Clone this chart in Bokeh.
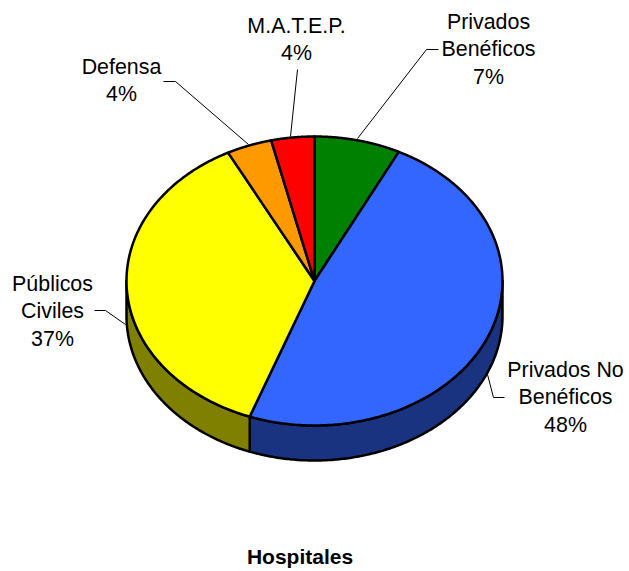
import numpy as np
from bokeh.plotting import figure
from bokeh.models import Range1d
from bokeh.core.properties import value
from bokeh.embed import file_html
from bokeh.resources import INLINE

categories = ["Privados Beneficos", "Privados No Beneficos", "Publicos Civiles", "Defensa", "M.A.T.E.P."]
shares = [7.4, 48.2, 36.8, 3.9, 3.7]
label_lines = [["Privados", "Benéficos", "7%"], ["Privados No", "Benéficos", "48%"],
               ["Públicos", "Civiles", "37%"], ["Defensa", "4%"], ["M.A.T.E.P.", "4%"]]
title_text = "Hospitales"

top_colors = ["#008000", "#3366FF", "#FFFF00", "#FF9900", "#FF0000"]
side_colors = ["#004000", "#1A3380", "#808000", "#804D00", "#800000"]

# layout, in page pixels
W, H = 629, 571
CX, CY, RX, RY, DEPTH = 315, 281.5, 188, 144.5, 35
label_xy = [(489, 22), (566, 370), (53, 284), (122, 67), (297, 26)]
LINE_H = 27.5
leaders = [[(358, 139), (427, 50), (439, 50)],
           [(488, 375), (494, 398), (505, 398)],
           [(126, 325), (106, 311), (95, 311)],
           [(249, 145), (176, 82), (164, 82)],
           [(291, 137), (298, 70)]]

p = figure(width=W, height=H, output_backend="svg", toolbar_location=None,
           x_range=Range1d(1, W + 1), y_range=Range1d(H + 1, 1),
           min_border=0, outline_line_color=None, background_fill_color="white")
p.axis.visible = False
p.grid.visible = False

edges = np.concatenate([[0], np.cumsum(shares)]) / sum(shares) * 2 * np.pi

def ex(t): return CX + RX * np.sin(t)
def ey(t, d=0): return CY - RY * np.cos(t) + d

# side walls
for a, b, col in zip(edges[:-1], edges[1:], side_colors):
    lo, hi = max(a, np.pi / 2), min(b, 3 * np.pi / 2)
    if hi <= lo:
        continue
    t = np.linspace(lo, hi, 200)
    xs = np.concatenate([ex(t), ex(t[::-1])])
    ys = np.concatenate([ey(t), ey(t[::-1], DEPTH)])
    p.patch(xs, ys, fill_color=col, line_color="black", line_width=2.5, line_join="round")

# top slices
for a, b, col in zip(edges[:-1], edges[1:], top_colors):
    t = np.linspace(a, b, 200)
    xs = np.concatenate([[CX], ex(t)])
    ys = np.concatenate([[CY], ey(t)])
    p.patch(xs, ys, fill_color=col, line_color="black", line_width=2.5, line_join="round")

# leader lines
for seg in leaders:
    p.line([q[0] for q in seg], [q[1] for q in seg], line_color="black", line_width=1)

# labels
for lines, (lx, ly) in zip(label_lines, label_xy):
    for i, s in enumerate(lines):
        p.text([lx], [ly + i * LINE_H], text=[s], text_font=value("Liberation Sans"),
               text_font_size="21.4px", text_color="black", text_align="center", text_baseline="middle")

p.text([300.5], [557], text=[title_text], text_font=value("Liberation Sans"), text_font_size="21px",
       text_font_style="bold", text_color="black", text_align="center", text_baseline="middle")

open("out.html", "w").write(file_html(p, INLINE))
